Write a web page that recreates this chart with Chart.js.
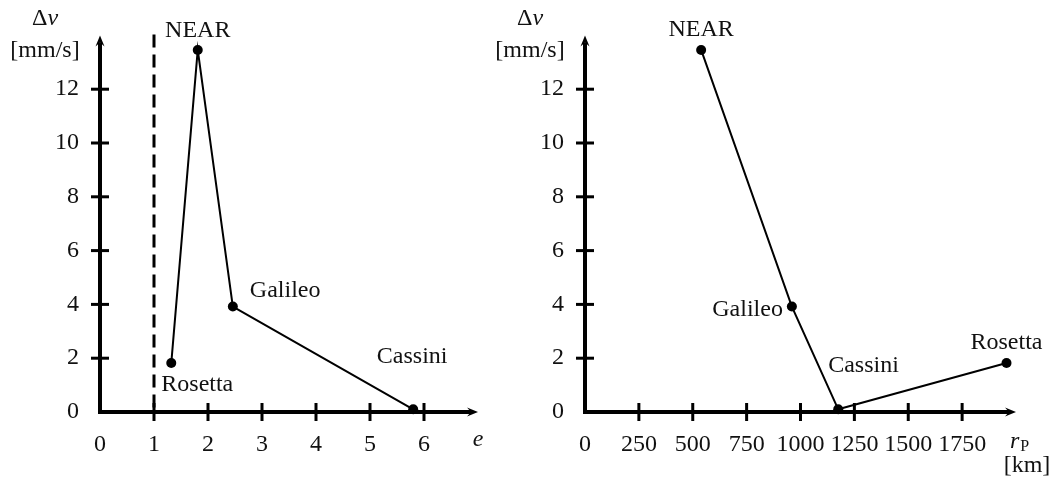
<!DOCTYPE html>
<html>
<head>
<meta charset="utf-8">
<script src="https://cdn.jsdelivr.net/npm/chart.js@4.4.1/dist/chart.umd.min.js"></script>
<style>
  html, body { margin: 0; padding: 0; background: #fff; }
  #wrap { position: relative; width: 1054px; height: 478px; }
  canvas { display: block; position: absolute; top: 0; }
  #eccChart { left: 0; }
  #periChart { left: 490px; }
</style>
</head>
<body>
<div id="wrap">
  <canvas id="eccChart" width="490" height="478"></canvas>
  <canvas id="periChart" width="564" height="478"></canvas>
</div>
<script>
// flyby data
const missions = ["Rosetta", "NEAR", "Galileo", "Cassini"];
const eccentricity = [1.32, 1.81, 2.46, 5.8];
const deltaV = [1.82, 13.46, 3.92, 0.1];
const perigeeKm = [1956, 539, 960, 1175];

const eTicks = [0, 1, 2, 3, 4, 5, 6];
const rpTicks = [0, 250, 500, 750, 1000, 1250, 1500, 1750];
const dvTicks = [0, 2, 4, 6, 8, 10, 12];

const FONT = '"Liberation Serif", "DejaVu Serif", serif';
const INK = "#111";

function buildPoints(xs) {
  return missions
    .map((name, i) => ({ x: xs[i], y: deltaV[i], name }))
    .sort((a, b) => a.x - b.x);
}

function line(ctx, x1, y1, x2, y2) {
  ctx.beginPath();
  ctx.moveTo(x1, y1);
  ctx.lineTo(x2, y2);
  ctx.stroke();
}

function arrowHead(ctx, x, y, dir) {
  // dir: "right" or "up"
  ctx.beginPath();
  if (dir === "right") {
    ctx.moveTo(x, y);
    ctx.lineTo(x - 11, y - 4.5);
    ctx.lineTo(x - 7, y);
    ctx.lineTo(x - 11, y + 4.5);
  } else {
    ctx.moveTo(x, y);
    ctx.lineTo(x - 4.5, y + 11);
    ctx.lineTo(x, y + 7);
    ctx.lineTo(x + 4.5, y + 11);
  }
  ctx.closePath();
  ctx.fill();
}

const axesPlugin = {
  id: "axes",
  beforeDatasetsDraw(chart, args, opts) {
    const { ctx, chartArea: a, scales: { x, y } } = chart;
    ctx.save();
    ctx.strokeStyle = "#000";
    ctx.fillStyle = "#000";

    // dashed e = 1 line
    if (opts.dashAt != null) {
      const px = x.getPixelForValue(opts.dashAt);
      ctx.lineWidth = 3;
      ctx.setLineDash([13, 7]);
      line(ctx, px, a.top - 1, px, a.bottom);
      ctx.setLineDash([]);
    }

    // axes
    ctx.lineWidth = 4;
    line(ctx, a.left - 2, a.bottom, a.right - 7, a.bottom);
    line(ctx, a.left, a.bottom + 2, a.left, a.top + 7);
    arrowHead(ctx, a.right, a.bottom, "right");
    arrowHead(ctx, a.left, a.top, "up");

    // tick marks crossing the axes
    ctx.lineWidth = 3;
    opts.xTicks.filter((v) => v > 0).forEach((v) => {
      const px = x.getPixelForValue(v);
      line(ctx, px, a.bottom - 9, px, a.bottom + 9);
    });
    opts.yTicks.filter((v) => v > 0).forEach((v) => {
      const py = y.getPixelForValue(v);
      line(ctx, a.left - 9, py, a.left + 9, py);
    });
    ctx.restore();
  },
  afterDatasetsDraw(chart, args, opts) {
    const { ctx, chartArea: a } = chart;
    ctx.save();
    ctx.fillStyle = INK;
    ctx.textBaseline = "middle";
    ctx.font = `24px ${FONT}`;

    // point labels
    const meta = chart.getDatasetMeta(0);
    const pts = chart.data.datasets[0].data;
    meta.data.forEach((el, i) => {
      const s = opts.labelStyle[pts[i].name];
      ctx.textAlign = s.align;
      ctx.fillText(pts[i].name, el.x + s.dx, el.y + s.dy);
    });

    // y-axis title: Δv / [mm/s]
    const cx = a.left - 55;
    ctx.font = `24px ${FONT}`;
    const wD = ctx.measureText("\u0394").width;
    ctx.font = `italic 24px ${FONT}`;
    const wV = ctx.measureText("v").width;
    ctx.textAlign = "left";
    ctx.font = `24px ${FONT}`;
    ctx.fillText("\u0394", cx - (wD + wV) / 2, 19);
    ctx.font = `italic 24px ${FONT}`;
    ctx.fillText("v", cx - (wD + wV) / 2 + wD, 19);
    ctx.font = `24px ${FONT}`;
    ctx.textAlign = "center";
    ctx.fillText("[mm/s]", cx, 51);

    // x-axis title
    if (opts.xTitle === "e") {
      ctx.font = `italic 24px ${FONT}`;
      ctx.fillText("e", a.right, a.bottom + 28);
    } else {
      ctx.font = `italic 24px ${FONT}`;
      ctx.textAlign = "left";
      const rx = a.right - 6;
      ctx.fillText("r", rx, a.bottom + 30);
      const wr = ctx.measureText("r").width;
      ctx.font = `16px ${FONT}`;
      ctx.fillText("P", rx + wr + 1, a.bottom + 35);
      ctx.font = `24px ${FONT}`;
      ctx.textAlign = "center";
      ctx.fillText("[km]", a.right + 11, a.bottom + 54);
    }
    ctx.restore();
  }
};

function makeChart(id, xs, xMax, xTicks, yAxisWidth, padRight, extra) {
  const tickFont = { family: FONT, size: 24 };
  return new Chart(document.getElementById(id), {
    type: "scatter",
    data: {
      datasets: [{
        data: buildPoints(xs),
        showLine: true,
        borderColor: "#000",
        borderWidth: 2,
        pointRadius: 5,
        pointBackgroundColor: "#000",
        pointBorderWidth: 0,
        clip: false
      }]
    },
    options: {
      responsive: false,
      animation: false,
      events: [],
      layout: { padding: { top: 35, right: padRight, left: 0, bottom: 0 } },
      plugins: {
        legend: { display: false },
        tooltip: { enabled: false },
        axes: Object.assign({ xTicks, yTicks: dvTicks }, extra)
      },
      scales: {
        x: {
          type: "linear",
          min: 0,
          max: xMax,
          grid: { display: false, drawTicks: false },
          border: { display: false },
          afterBuildTicks: (s) => { s.ticks = xTicks.map((v) => ({ value: v })); },
          afterFit: (s) => { s.height = 66; },
          ticks: {
            font: tickFont, color: INK, padding: 18,
            autoSkip: false, maxRotation: 0,
            callback: (v) => String(v)
          }
        },
        y: {
          type: "linear",
          min: 0,
          max: 14,
          grid: { display: false, drawTicks: false },
          border: { display: false },
          afterBuildTicks: (s) => { s.ticks = dvTicks.map((v) => ({ value: v })); },
          afterFit: (s) => { s.width = yAxisWidth; },
          ticks: {
            font: tickFont, color: INK, padding: 21,
            autoSkip: false,
            callback: (v) => String(v)
          }
        }
      }
    },
    plugins: [axesPlugin]
  });
}

makeChart("eccChart", eccentricity, 7, eTicks, 100, 12, {
  dashAt: 1,
  xTitle: "e",
  labelStyle: {
    NEAR: { align: "center", dx: 0, dy: -19 },
    Galileo: { align: "left", dx: 17, dy: -16 },
    Cassini: { align: "center", dx: -1, dy: -53 },
    Rosetta: { align: "left", dx: -10, dy: 22 }
  }
});

makeChart("periChart", perigeeKm, 2000, rpTicks, 95, 38, {
  dashAt: null,
  xTitle: "rp",
  labelStyle: {
    NEAR: { align: "center", dx: 0, dy: -20 },
    Galileo: { align: "right", dx: -9, dy: 3 },
    Cassini: { align: "left", dx: -10, dy: -44 },
    Rosetta: { align: "center", dx: 0, dy: -20 }
  }
});
</script>
</body>
</html>
